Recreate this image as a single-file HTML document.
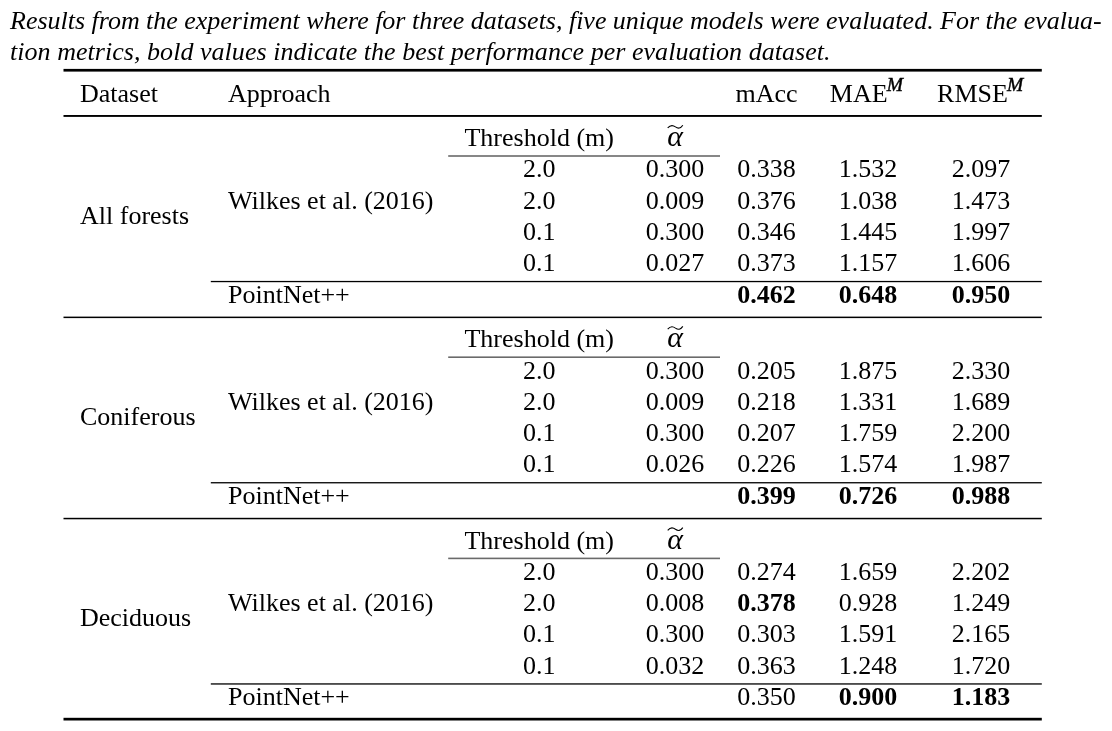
<!DOCTYPE html>
<html><head><meta charset="utf-8"><style>
html,body{margin:0;padding:0;background:#fff;}
body{width:1112px;height:731px;overflow:hidden;position:relative;}
.cap{position:absolute;left:10px;width:1093px;font-family:"Liberation Serif",serif;font-style:italic;font-size:26px;line-height:31.4px;white-space:nowrap;color:#000;will-change:transform;}
.j{text-align:justify;text-align-last:justify;white-space:normal;}
svg{position:absolute;left:0;top:0;will-change:transform;}
svg text{font-family:"Liberation Serif",serif;fill:#000;}
</style></head><body>
<div class="cap" style="top:4.9px;word-spacing:-0.09px">Results from the experiment where for three datasets, five unique models were evaluated. For the evalua-</div>
<div class="cap" style="top:36.3px;letter-spacing:0.04px">tion metrics, bold values indicate the best performance per evaluation dataset.</div>
<svg width="1112" height="731" viewBox="0 0 1112 731">
<rect x="63.5" y="68.9" width="978.3" height="2.6999999999999886" fill="#000"/>
<rect x="63.5" y="115.0" width="978.3" height="1.9000000000000057" fill="#000"/>
<text x="80" y="101.7" text-anchor="start" font-weight="normal" font-style="normal" font-size="26" >Dataset</text>
<text x="228" y="101.7" text-anchor="start" font-weight="normal" font-style="normal" font-size="26" >Approach</text>
<text x="766.5" y="101.7" text-anchor="middle" font-weight="normal" font-style="normal" font-size="26" >mAcc</text>
<text x="866.4" y="101.7" text-anchor="middle" font-weight="normal" font-style="normal" font-size="26" >MAE<tspan font-style="italic" font-size="19.5" dx="-0.8" dy="-10.5" stroke="#000" stroke-width="0.45">M</tspan></text>
<text x="980.2" y="101.7" text-anchor="middle" font-weight="normal" font-style="normal" font-size="26" >RMSE<tspan font-style="italic" font-size="19.5" dx="-0.8" dy="-10.5" stroke="#000" stroke-width="0.45">M</tspan></text>
<text x="539.2" y="146.2" text-anchor="middle" font-weight="normal" font-style="normal" font-size="26" >Threshold (m)</text>
<text x="675" y="146.2" text-anchor="middle" font-weight="normal" font-style="normal" font-size="26" ><tspan font-style="italic" font-size="30">α</tspan></text>
<path d="M667.7 127.89999999999999 C670.5 124.69999999999999 673 124.99999999999999 675.5 126.89999999999999 C678 128.7 680.5 128.6 682.8 125.19999999999999" fill="none" stroke="#000" stroke-width="1.15"/>
<rect x="448.2" y="155.2" width="271.8" height="1.6000000000000227" fill="#6a6a6a"/>
<text x="539.2" y="177.3" text-anchor="middle" font-weight="normal" font-style="normal" font-size="26" >2.0</text>
<text x="675" y="177.3" text-anchor="middle" font-weight="normal" font-style="normal" font-size="26" >0.300</text>
<text x="766.5" y="177.3" text-anchor="middle" font-weight="normal" font-style="normal" font-size="26" >0.338</text>
<text x="868" y="177.3" text-anchor="middle" font-weight="normal" font-style="normal" font-size="26" >1.532</text>
<text x="981" y="177.3" text-anchor="middle" font-weight="normal" font-style="normal" font-size="26" >2.097</text>
<text x="539.2" y="208.60000000000002" text-anchor="middle" font-weight="normal" font-style="normal" font-size="26" >2.0</text>
<text x="675" y="208.60000000000002" text-anchor="middle" font-weight="normal" font-style="normal" font-size="26" >0.009</text>
<text x="766.5" y="208.60000000000002" text-anchor="middle" font-weight="normal" font-style="normal" font-size="26" >0.376</text>
<text x="868" y="208.60000000000002" text-anchor="middle" font-weight="normal" font-style="normal" font-size="26" >1.038</text>
<text x="981" y="208.60000000000002" text-anchor="middle" font-weight="normal" font-style="normal" font-size="26" >1.473</text>
<text x="539.2" y="239.9" text-anchor="middle" font-weight="normal" font-style="normal" font-size="26" >0.1</text>
<text x="675" y="239.9" text-anchor="middle" font-weight="normal" font-style="normal" font-size="26" >0.300</text>
<text x="766.5" y="239.9" text-anchor="middle" font-weight="normal" font-style="normal" font-size="26" >0.346</text>
<text x="868" y="239.9" text-anchor="middle" font-weight="normal" font-style="normal" font-size="26" >1.445</text>
<text x="981" y="239.9" text-anchor="middle" font-weight="normal" font-style="normal" font-size="26" >1.997</text>
<text x="539.2" y="271.20000000000005" text-anchor="middle" font-weight="normal" font-style="normal" font-size="26" >0.1</text>
<text x="675" y="271.20000000000005" text-anchor="middle" font-weight="normal" font-style="normal" font-size="26" >0.027</text>
<text x="766.5" y="271.20000000000005" text-anchor="middle" font-weight="normal" font-style="normal" font-size="26" >0.373</text>
<text x="868" y="271.20000000000005" text-anchor="middle" font-weight="normal" font-style="normal" font-size="26" >1.157</text>
<text x="981" y="271.20000000000005" text-anchor="middle" font-weight="normal" font-style="normal" font-size="26" >1.606</text>
<text x="228" y="208.7" text-anchor="start" font-weight="normal" font-style="normal" font-size="26" >Wilkes et al. (2016)</text>
<text x="80" y="223.5" text-anchor="start" font-weight="normal" font-style="normal" font-size="26" >All forests</text>
<rect x="210.8" y="280.9" width="831.0" height="1.3000000000000114" fill="#000"/>
<text x="228" y="303.0" text-anchor="start" font-weight="normal" font-style="normal" font-size="26" >PointNet++</text>
<text x="766.5" y="303.0" text-anchor="middle" font-weight="bold" font-style="normal" font-size="26" >0.462</text>
<text x="868" y="303.0" text-anchor="middle" font-weight="bold" font-style="normal" font-size="26" >0.648</text>
<text x="981" y="303.0" text-anchor="middle" font-weight="bold" font-style="normal" font-size="26" >0.950</text>
<rect x="63.5" y="316.59999999999997" width="978.3" height="1.5" fill="#000"/>
<text x="539.2" y="347.4" text-anchor="middle" font-weight="normal" font-style="normal" font-size="26" >Threshold (m)</text>
<text x="675" y="347.4" text-anchor="middle" font-weight="normal" font-style="normal" font-size="26" ><tspan font-style="italic" font-size="30">α</tspan></text>
<path d="M667.7 329.09999999999997 C670.5 325.9 673 326.2 675.5 328.09999999999997 C678 329.9 680.5 329.79999999999995 682.8 326.4" fill="none" stroke="#000" stroke-width="1.15"/>
<rect x="448.2" y="356.4" width="271.8" height="1.6000000000000227" fill="#6a6a6a"/>
<text x="539.2" y="378.5" text-anchor="middle" font-weight="normal" font-style="normal" font-size="26" >2.0</text>
<text x="675" y="378.5" text-anchor="middle" font-weight="normal" font-style="normal" font-size="26" >0.300</text>
<text x="766.5" y="378.5" text-anchor="middle" font-weight="normal" font-style="normal" font-size="26" >0.205</text>
<text x="868" y="378.5" text-anchor="middle" font-weight="normal" font-style="normal" font-size="26" >1.875</text>
<text x="981" y="378.5" text-anchor="middle" font-weight="normal" font-style="normal" font-size="26" >2.330</text>
<text x="539.2" y="409.8" text-anchor="middle" font-weight="normal" font-style="normal" font-size="26" >2.0</text>
<text x="675" y="409.8" text-anchor="middle" font-weight="normal" font-style="normal" font-size="26" >0.009</text>
<text x="766.5" y="409.8" text-anchor="middle" font-weight="normal" font-style="normal" font-size="26" >0.218</text>
<text x="868" y="409.8" text-anchor="middle" font-weight="normal" font-style="normal" font-size="26" >1.331</text>
<text x="981" y="409.8" text-anchor="middle" font-weight="normal" font-style="normal" font-size="26" >1.689</text>
<text x="539.2" y="441.1" text-anchor="middle" font-weight="normal" font-style="normal" font-size="26" >0.1</text>
<text x="675" y="441.1" text-anchor="middle" font-weight="normal" font-style="normal" font-size="26" >0.300</text>
<text x="766.5" y="441.1" text-anchor="middle" font-weight="normal" font-style="normal" font-size="26" >0.207</text>
<text x="868" y="441.1" text-anchor="middle" font-weight="normal" font-style="normal" font-size="26" >1.759</text>
<text x="981" y="441.1" text-anchor="middle" font-weight="normal" font-style="normal" font-size="26" >2.200</text>
<text x="539.2" y="472.4" text-anchor="middle" font-weight="normal" font-style="normal" font-size="26" >0.1</text>
<text x="675" y="472.4" text-anchor="middle" font-weight="normal" font-style="normal" font-size="26" >0.026</text>
<text x="766.5" y="472.4" text-anchor="middle" font-weight="normal" font-style="normal" font-size="26" >0.226</text>
<text x="868" y="472.4" text-anchor="middle" font-weight="normal" font-style="normal" font-size="26" >1.574</text>
<text x="981" y="472.4" text-anchor="middle" font-weight="normal" font-style="normal" font-size="26" >1.987</text>
<text x="228" y="409.9" text-anchor="start" font-weight="normal" font-style="normal" font-size="26" >Wilkes et al. (2016)</text>
<text x="80" y="424.7" text-anchor="start" font-weight="normal" font-style="normal" font-size="26" >Coniferous</text>
<rect x="210.8" y="482.1" width="831.0" height="1.2999999999999545" fill="#000"/>
<text x="228" y="504.2" text-anchor="start" font-weight="normal" font-style="normal" font-size="26" >PointNet++</text>
<text x="766.5" y="504.2" text-anchor="middle" font-weight="bold" font-style="normal" font-size="26" >0.399</text>
<text x="868" y="504.2" text-anchor="middle" font-weight="bold" font-style="normal" font-size="26" >0.726</text>
<text x="981" y="504.2" text-anchor="middle" font-weight="bold" font-style="normal" font-size="26" >0.988</text>
<rect x="63.5" y="517.8" width="978.3" height="1.5" fill="#000"/>
<text x="539.2" y="548.6" text-anchor="middle" font-weight="normal" font-style="normal" font-size="26" >Threshold (m)</text>
<text x="675" y="548.6" text-anchor="middle" font-weight="normal" font-style="normal" font-size="26" ><tspan font-style="italic" font-size="30">α</tspan></text>
<path d="M667.7 530.3000000000001 C670.5 527.1 673 527.4 675.5 529.3000000000001 C678 531.1 680.5 531.0 682.8 527.6" fill="none" stroke="#000" stroke-width="1.15"/>
<rect x="448.2" y="557.6" width="271.8" height="1.599999999999909" fill="#6a6a6a"/>
<text x="539.2" y="579.6999999999999" text-anchor="middle" font-weight="normal" font-style="normal" font-size="26" >2.0</text>
<text x="675" y="579.6999999999999" text-anchor="middle" font-weight="normal" font-style="normal" font-size="26" >0.300</text>
<text x="766.5" y="579.6999999999999" text-anchor="middle" font-weight="normal" font-style="normal" font-size="26" >0.274</text>
<text x="868" y="579.6999999999999" text-anchor="middle" font-weight="normal" font-style="normal" font-size="26" >1.659</text>
<text x="981" y="579.6999999999999" text-anchor="middle" font-weight="normal" font-style="normal" font-size="26" >2.202</text>
<text x="539.2" y="610.9999999999999" text-anchor="middle" font-weight="normal" font-style="normal" font-size="26" >2.0</text>
<text x="675" y="610.9999999999999" text-anchor="middle" font-weight="normal" font-style="normal" font-size="26" >0.008</text>
<text x="766.5" y="610.9999999999999" text-anchor="middle" font-weight="bold" font-style="normal" font-size="26" >0.378</text>
<text x="868" y="610.9999999999999" text-anchor="middle" font-weight="normal" font-style="normal" font-size="26" >0.928</text>
<text x="981" y="610.9999999999999" text-anchor="middle" font-weight="normal" font-style="normal" font-size="26" >1.249</text>
<text x="539.2" y="642.3" text-anchor="middle" font-weight="normal" font-style="normal" font-size="26" >0.1</text>
<text x="675" y="642.3" text-anchor="middle" font-weight="normal" font-style="normal" font-size="26" >0.300</text>
<text x="766.5" y="642.3" text-anchor="middle" font-weight="normal" font-style="normal" font-size="26" >0.303</text>
<text x="868" y="642.3" text-anchor="middle" font-weight="normal" font-style="normal" font-size="26" >1.591</text>
<text x="981" y="642.3" text-anchor="middle" font-weight="normal" font-style="normal" font-size="26" >2.165</text>
<text x="539.2" y="673.5999999999999" text-anchor="middle" font-weight="normal" font-style="normal" font-size="26" >0.1</text>
<text x="675" y="673.5999999999999" text-anchor="middle" font-weight="normal" font-style="normal" font-size="26" >0.032</text>
<text x="766.5" y="673.5999999999999" text-anchor="middle" font-weight="normal" font-style="normal" font-size="26" >0.363</text>
<text x="868" y="673.5999999999999" text-anchor="middle" font-weight="normal" font-style="normal" font-size="26" >1.248</text>
<text x="981" y="673.5999999999999" text-anchor="middle" font-weight="normal" font-style="normal" font-size="26" >1.720</text>
<text x="228" y="611.1" text-anchor="start" font-weight="normal" font-style="normal" font-size="26" >Wilkes et al. (2016)</text>
<text x="80" y="625.9" text-anchor="start" font-weight="normal" font-style="normal" font-size="26" >Deciduous</text>
<rect x="210.8" y="683.3" width="831.0" height="1.2999999999999545" fill="#000"/>
<text x="228" y="705.4" text-anchor="start" font-weight="normal" font-style="normal" font-size="26" >PointNet++</text>
<text x="766.5" y="705.4" text-anchor="middle" font-weight="normal" font-style="normal" font-size="26" >0.350</text>
<text x="868" y="705.4" text-anchor="middle" font-weight="bold" font-style="normal" font-size="26" >0.900</text>
<text x="981" y="705.4" text-anchor="middle" font-weight="bold" font-style="normal" font-size="26" >1.183</text>
<rect x="63.5" y="717.8" width="978.3" height="2.7000000000000455" fill="#000"/>
</svg>
</body></html>
